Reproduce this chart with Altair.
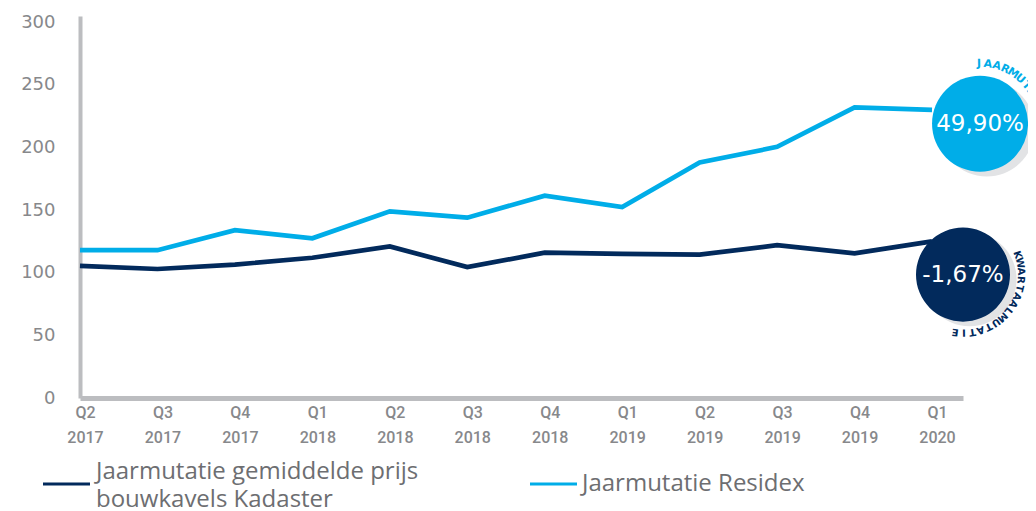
import json
import altair as alt
import pandas as pd

# ---------------- data ----------------
quarters = ["Q2", "Q3", "Q4", "Q1", "Q2", "Q3", "Q4", "Q1", "Q2", "Q3", "Q4", "Q1"]
years = ["2017", "2017", "2017", "2018", "2018", "2018", "2018", "2019", "2019", "2019", "2019", "2020"]
kadaster = [105.5, 103, 106.5, 112, 121, 104.5, 116, 115, 114.5, 122, 115.5, 125]
residex = [118, 118, 134, 127.5, 149, 144, 161.5, 152.5, 188, 200.5, 232, 230]
series_names = ["Jaarmutatie gemiddelde prijs\nbouwkavels Kadaster", "Jaarmutatie Residex"]
y_ticks = [0, 50, 100, 150, 200, 250, 300]

badge_text = ["-1,67%", "49,90%"]
badge_idx = [11.40, 11.62]
badge_val = [98.5, 219]
ring_text = ["KWARTAALMUTATIE", "JAARMUTATIE"]

# ---------------- styles ----------------
NAVY = "#022a5c"
BLUE = "#00ade8"
AXIS_GRAY = "#bcbdc0"
LABEL_GRAY = "#87888b"
LEGEND_GRAY = "#6d6e71"
SHADOW = "#e2e3e5"
FONT = "DejaVu Sans"
XFONT = "Roboto"
LFONT = "Open Sans"

X_DOMAIN = [0, 11.4]
Y_DOMAIN = [0, 305]

rows = []
for i in range(len(quarters)):
    rows.append({"idx": i, "value": kadaster[i], "series": series_names[0]})
    rows.append({"idx": i, "value": residex[i], "series": series_names[1]})
df = pd.DataFrame(rows)

label_expr = f"[{json.dumps(quarters)}[datum.value], {json.dumps(years)}[datum.value]]"

xs = alt.Scale(domain=X_DOMAIN, nice=False, zero=False)
ys = alt.Scale(domain=Y_DOMAIN, nice=False, zero=False)

x_axis = alt.Axis(values=list(range(len(quarters))), labelExpr=label_expr, grid=False,
                  ticks=False, domainColor=AXIS_GRAY, domainWidth=5,
                  labelColor=LABEL_GRAY, labelFont=XFONT, labelFontSize=16,
                  labelFontWeight=500, labelLineHeight=25, labelPadding=6, labelOffset=5,
                  labelAlign="center", labelBaseline="top",
                  labelFlush=False, labelOverlap=False)
y_axis = alt.Axis(values=y_ticks, grid=False, ticks=False, domainColor=AXIS_GRAY,
                  domainWidth=4, labelColor=LABEL_GRAY, labelFont=FONT,
                  labelFontSize=18, labelPadding=25, labelFlush=False)


def xq():
    return alt.X("idx:Q", scale=xs, axis=x_axis, title=None)


def yq():
    return alt.Y("value:Q", scale=ys, axis=y_axis, title=None)


lines = alt.Chart(df).mark_line(strokeWidth=4.7).encode(
    x=xq(), y=yq(),
    color=alt.Color("series:N", scale=alt.Scale(domain=series_names, range=[NAVY, BLUE]), legend=None),
)

layers = [lines]

colors = [NAVY, BLUE]
sizes = [94 ** 2, 96 ** 2]
ring_r = [58, 60]
ring_start = [70, -1]
ring_step = [8.4, 8.6]
ring_size = [10, 11]
shadow_shape = "M 1.14,0.1 A 1,1 0 1,1 -0.86,0.1 A 1,1 0 1,1 1.14,0.1 Z"

for i in range(2):
    bdf = pd.DataFrame({"idx": [badge_idx[i]], "value": [badge_val[i]], "t": [badge_text[i]]})
    shadow = alt.Chart(bdf).mark_point(shape=shadow_shape, filled=True, color=SHADOW,
                                       opacity=1, size=sizes[i]).encode(x=xq(), y=yq())
    circ = alt.Chart(bdf).mark_circle(color=colors[i], opacity=1, size=sizes[i]).encode(x=xq(), y=yq())
    txt = alt.Chart(bdf).mark_text(color="white", font=FONT, fontSize=23, fontWeight=500,
                                   align="center", baseline="middle").encode(
        x=xq(), y=yq(), text="t:N")
    chars = list(ring_text[i])
    rdf = pd.DataFrame({"ch": chars, "idx": [badge_idx[i]] * len(chars),
                        "value": [badge_val[i]] * len(chars)})
    ring = alt.Chart(rdf).transform_window(k="row_number()").transform_calculate(
        deg=f"{ring_start[i]} + (datum.k - 1) * {ring_step[i]}"
    ).transform_calculate(
        th="datum.deg * PI / 180"
    ).mark_text(radius=ring_r[i], color=colors[i], font=FONT, fontSize=ring_size[i],
                fontWeight=600, align="center", baseline="middle").encode(
        x=xq(), y=yq(), text="ch:N",
        theta=alt.Theta("th:Q", scale=None, stack=None),
        angle=alt.Angle("deg:Q", scale=None),
    )
    layers += [shadow, circ, txt, ring]

# ---------------- legend (manual) ----------------
for name, col, sx, tx, ty, base in [
    (series_names[0], NAVY, -37, 16, 456, "middle"),
    (series_names[1], BLUE, 450, 502, 468, "middle"),
]:
    one = pd.DataFrame({"t": [name]})
    sw = alt.Chart(one).mark_rule(color=col, strokeWidth=3).encode(
        x=alt.value(sx), x2=alt.value(sx + 47), y=alt.value(468))
    lt = alt.Chart(one).mark_text(color=LEGEND_GRAY, font=LFONT, fontSize=24, align="left",
                                  baseline=base, lineBreak="\n", lineHeight=28).encode(
        x=alt.value(tx), y=alt.value(ty), text="t:N")
    layers += [sw, lt]

chart = alt.layer(*layers).properties(
    width=883, height=382,
    autosize=alt.AutoSizeParams(type="none"),
    padding={"left": 72, "top": 8, "right": 65, "bottom": 113},
    background="white",
).configure_view(stroke=None)

chart.save("out.html", embed_options={"renderer": "svg", "actions": False})
